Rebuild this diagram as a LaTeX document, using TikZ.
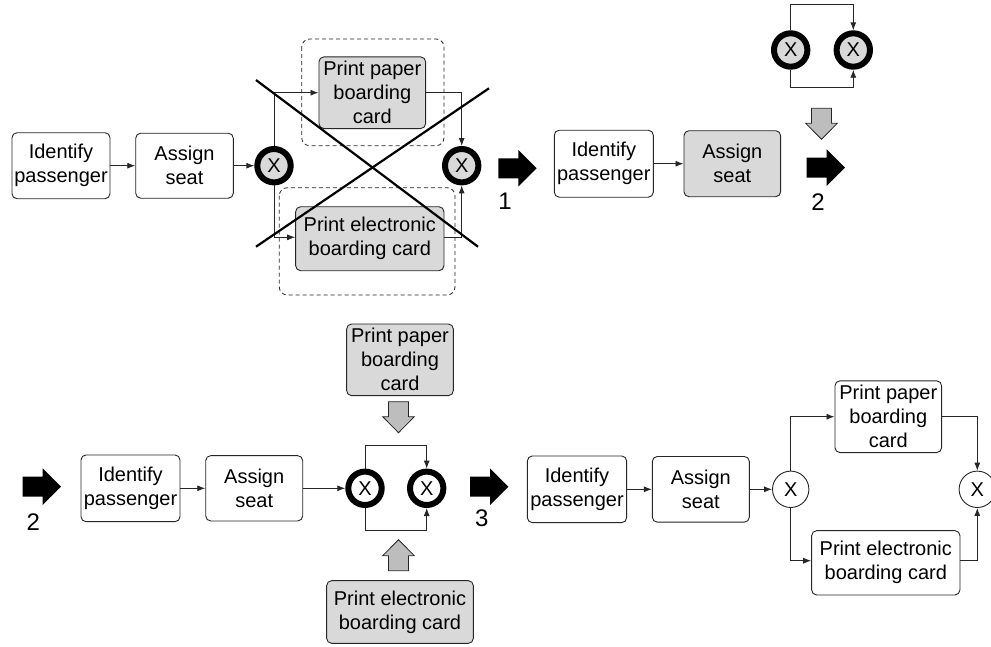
\documentclass[tikz,border=0pt]{standalone}
\usepackage{fontspec}
\setmainfont{Liberation Sans}
\usetikzlibrary{arrows.meta}
\definecolor{actgray}{HTML}{D9D9D9}
\definecolor{hintgray}{HTML}{BDBDBD}
\definecolor{edge}{HTML}{262626}

\begin{document}
\begin{tikzpicture}[x=1pt,y=-1pt,
  task/.style={draw=edge, line width=0.9pt, rounded corners=5pt, fill=white,
    inner sep=0pt, align=center, font=\fontsize{20}{24}\selectfont},
  graytask/.style={task, fill=actgray},
  gwthick/.style={circle, draw=black, line width=6pt, minimum size=33.4pt,
    inner sep=0pt, font=\fontsize{20}{24}\selectfont, fill=actgray},
  gwthin/.style={circle, draw=edge, line width=0.9pt, minimum size=36.4pt,
    inner sep=0pt, font=\fontsize{20}{24}\selectfont, fill=white},
  flow/.style={draw=edge, line width=0.9pt, -{Latex[length=8pt,width=6pt]}},
  plain/.style={draw=edge, line width=0.9pt},
  groupbox/.style={draw=edge, line width=0.8pt, dash pattern=on 4pt off 3pt, rounded corners=8pt},
  strike/.style={draw=black, line width=2.2pt},
  steplabel/.style={inner sep=0pt, font=\fontsize{24}{28}\selectfont},
  fatarrow/.pic={\fill[black] (0,-10) -- (20,-10) -- (20,-18.3) -- (38.3,0)
    -- (20,18.3) -- (20,10) -- (0,10) -- cycle;},
  hintarrow/.pic={\filldraw[fill=hintgray, draw=edge, line width=0.8pt]
    (-10,0) -- (10,0) -- (10,15) -- (15.8,15) -- (0,31) -- (-15.8,15)
    -- (-10,15) -- cycle;}
]
\clip (0,0) rectangle (991,646);

% ---------- stage 0: original process with the exclusive choice ----------
\draw[groupbox] (301.7,39) rectangle (444,145.7);
\draw[groupbox] (279.3,187.7) rectangle (455,295);
\node[task, minimum width=98pt, minimum height=66pt] (id1) at (61,165.7) {Identify\\passenger};
\node[task, minimum width=97.6pt, minimum height=65pt] (as1) at (184.5,165.7) {Assign\\seat};
\node[gwthick] (g1) at (274,165.7) {X};
\node[gwthick] (g2) at (461.7,165.7) {X};
\node[graytask, minimum width=106.7pt, minimum height=71.7pt] (pp1) at (372.3,92.7) {Print paper\\boarding\\card};
\node[graytask, minimum width=148.3pt, minimum height=64pt] (pe1) at (369.8,238.7) {Print electronic\\boarding card};
\draw[flow] (id1.east) -- (as1.west);
\draw[flow] (as1.east) -- (g1.west);
\draw[flow] (g1.north) |- (pp1.west);
\draw[flow] (pp1.east) -| (g2.north);
\coordinate (lowrow1) at (0,237.3);
\draw[flow] (g1.south) |- (pe1.west |- lowrow1);
\draw[flow] (pe1.east |- lowrow1) -| (g2.south);
\draw[strike] (256,80) -- (478,246.7);
\draw[strike] (256,246.7) -- (489,88.3);

\pic at (498.3,168.3) {fatarrow};
\node[steplabel] (n1) at (505,201.7) {1};

% ---------- stage 1: gateways lifted out ----------
\node[task, minimum width=99pt, minimum height=67pt] (id2) at (603.8,163.7) {Identify\\passenger};
\node[graytask, minimum width=96.7pt, minimum height=66pt] (as2) at (732.3,163.7) {Assign\\seat};
\draw[flow] (id2.east) -- (as2.west);
\node[gwthick] (g3) at (790.7,50) {X};
\node[gwthick] (g4) at (853.3,50) {X};
\coordinate (top2) at (0,4);
\coordinate (bot2) at (0,87.7);
\draw[flow] (g3.north) -- (g3.north |- top2) -| (g4.north);
\draw[flow] (g3.south) -- (g3.south |- bot2) -| (g4.south);
\pic at (821.5,108.3) {hintarrow};

\pic at (806.7,167.7) {fatarrow};
\node[steplabel] (n2a) at (818,201.7) {2};

% ---------- stage 2: tasks inserted into the branches ----------
\pic at (22.7,486.7) {fatarrow};
\node[steplabel] (n2b) at (33.3,521.7) {2};
\node[task, minimum width=99pt, minimum height=66.7pt] (id3) at (130.5,488.3) {Identify\\passenger};
\node[task, minimum width=97pt, minimum height=65.3pt] (as3) at (254.2,488.3) {Assign\\seat};
\node[gwthick, fill=white] (g5) at (365,488.3) {X};
\node[gwthick, fill=white] (g6) at (426.7,488.3) {X};
\draw[flow] (id3.east) -- (as3.west);
\draw[flow] (as3.east) -- (g5.west);
\coordinate (top3) at (0,445.7);
\coordinate (bot3) at (0,530);
\draw[flow] (g5.north) -- (g5.north |- top3) -| (g6.north);
\draw[flow] (g5.south) -- (g5.south |- bot3) -| (g6.south);
\node[graytask, minimum width=106.7pt, minimum height=71.7pt] (pp3) at (400,359.8) {Print paper\\boarding\\card};
\node[graytask, minimum width=146.7pt, minimum height=62.7pt] (pe3) at (400,612) {Print electronic\\boarding card};
\pic at (398.5,401.7) {hintarrow};
\pic[rotate=180] at (398.5,570.7) {hintarrow};

\pic at (470,486.7) {fatarrow};
\node[steplabel] (n3) at (481.7,518.3) {3};

% ---------- stage 3: resulting process ----------
\node[task, minimum width=99.3pt, minimum height=66.7pt] (id4) at (577,489.3) {Identify\\passenger};
\node[task, minimum width=97pt, minimum height=65.7pt] (as4) at (700.8,489.3) {Assign\\seat};
\node[gwthin] (g7) at (790.7,489.3) {X};
\node[gwthin] (g8) at (977.3,489.3) {X};
\node[task, minimum width=106.7pt, minimum height=71.7pt] (pp4) at (888.3,416.7) {Print paper\\boarding\\card};
\node[task, minimum width=148.3pt, minimum height=64.3pt] (pe4) at (885.8,562.8) {Print electronic\\boarding card};
\draw[flow] (id4.east) -- (as4.west);
\draw[flow] (as4.east) -- (g7.west);
\draw[flow] (g7.north) |- (pp4.west);
\draw[flow] (pp4.east) -| (g8.north);
\coordinate (lowrow4) at (0,560.7);
\draw[flow] (g7.south) |- (pe4.west |- lowrow4);
\draw[flow] (pe4.east |- lowrow4) -| (g8.south);
\end{tikzpicture}
\end{document}
